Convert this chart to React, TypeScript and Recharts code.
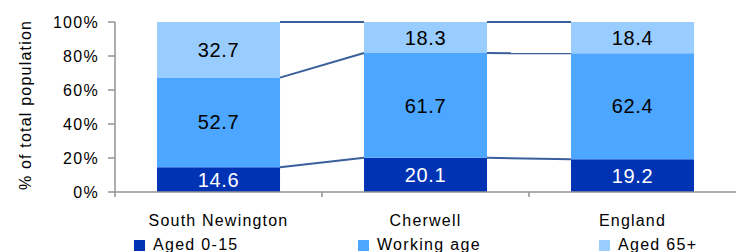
import { BarChart, Bar, XAxis, YAxis, Legend, LabelList, ReferenceLine } from "recharts";

const categories = ["South Newington", "Cherwell", "England"];
const seriesNames = ["Aged 0-15", "Working age", "Aged 65+"];
const aged0to15 = [14.6, 20.1, 19.2];
const workingAge = [52.7, 61.7, 62.4];
const aged65plus = [32.7, 18.3, 18.4];
const yTicks = [0, 0.2, 0.4, 0.6, 0.8, 1];

const FONT = "'Liberation Sans', Arial, sans-serif";
const AXIS = "#939393";
const GAP = 0.203; // barCategoryGap as a share of the band
const HALF = 0.5 - GAP; // half bar width in category units
const HALF_BAND = 103.5; // px, half of one category band
const LEGEND_X = [134, 358, 599];

const data = categories.map((name, i) => ({
    name,
    young: aged0to15[i],
    working: workingAge[i],
    old: aged65plus[i],
}));

// stack tops as share of the total, for the series lines
const levels = data.map(d => {
    const t = d.young + d.working + d.old;
    return [d.young / t, (d.young + d.working) / t, 1];
});

const segments: any[] = [];
for (let i = 0; i < data.length - 1; i++) {
    for (let k = 0; k < 3; k++) {
        segments.push([
            { x: i + HALF, y: levels[i][k] },
            { x: i + 1 - HALF, y: levels[i + 1][k] },
        ]);
    }
}

const CategoryTick = (props: any) => {
    const { x, y, payload } = props;
    const half = payload.offset || HALF_BAND;
    return (
        <g>
            <line x1={x - half} x2={x - half} y1={y} y2={y + 5} stroke={AXIS} strokeWidth={1.5} />
            <text x={x} y={y + 34} textAnchor="middle" fontSize={16} letterSpacing={1.2} fill="#000" fontFamily={FONT}>
                {payload.value}
            </text>
        </g>
    );
};

const YLabel = () => (
    <text
        x={25}
        y={105}
        transform="rotate(-90 25 105)"
        textAnchor="middle"
        dominantBaseline="central"
        fontSize={16}
        letterSpacing={1.2}
        fill="#000"
        fontFamily={FONT}
    >
        % of total population
    </text>
);

const LegendRow = (props: any) => {
    const items = [...(props.payload || [])].sort(
        (a: any, b: any) => seriesNames.indexOf(a.value) - seriesNames.indexOf(b.value)
    );
    return (
        <div style={{ position: "relative", height: 20, fontFamily: FONT, fontSize: 16, letterSpacing: 1.3, color: "#000" }}>
            {items.map((p: any, i: number) => (
                <div
                    key={p.value}
                    style={{ position: "absolute", left: LEGEND_X[i], top: 4, height: 18, lineHeight: "18px", display: "flex", alignItems: "center", whiteSpace: "nowrap" }}
                >
                    <span style={{ width: 11, height: 11, background: p.color, marginRight: 8, display: "inline-block" }} />
                    <span>{p.value}</span>
                </div>
            ))}
        </div>
    );
};

export default function App() {
    return (
        <div style={{ position: "absolute", left: 0, top: 0, width: 736, height: 252, background: "#fff" }}>
            <BarChart
                width={736}
                height={252}
                data={data}
                stackOffset="expand"
                barCategoryGap={`${GAP * 100}%`}
                margin={{ top: 22, right: 0, left: 0, bottom: 0 }}
            >
                <XAxis
                    dataKey="name"
                    height={40}
                    axisLine={{ stroke: AXIS, strokeWidth: 1.5 }}
                    tickLine={false}
                    tickSize={0}
                    tickMargin={0}
                    tick={<CategoryTick />}
                    interval={0}
                />
                <XAxis
                    xAxisId="num"
                    type="number"
                    domain={[0, categories.length - 1]}
                    padding={{ left: HALF_BAND, right: HALF_BAND }}
                    allowDataOverflow
                    hide
                />
                <YAxis
                    width={115}
                    domain={[0, 1]}
                    ticks={yTicks}
                    tickFormatter={(v: number) => `${Math.round(v * 100)}%`}
                    tickSize={7}
                    tickMargin={9}
                    axisLine={{ stroke: AXIS, strokeWidth: 1.5 }}
                    tickLine={{ stroke: AXIS, strokeWidth: 1.5 }}
                    tick={{ fontSize: 16, fill: "#000", fontFamily: FONT, letterSpacing: 1.3 }}
                    label={<YLabel />}
                />
                <Legend verticalAlign="bottom" content={<LegendRow />} wrapperStyle={{ left: 0, bottom: 0, width: 736 }} />
                <Bar dataKey="young" name={seriesNames[0]} stackId="a" fill="#0033B4" isAnimationActive={false}>
                    <LabelList dataKey="young" position="center" fill="#fff" fontSize={20} fontFamily={FONT} letterSpacing={0.7} />
                </Bar>
                <Bar dataKey="working" name={seriesNames[1]} stackId="a" fill="#4DA6FF" isAnimationActive={false}>
                    <LabelList dataKey="working" position="center" fill="#000" fontSize={20} fontFamily={FONT} letterSpacing={0.7} />
                </Bar>
                <Bar dataKey="old" name={seriesNames[2]} stackId="a" fill="#99CCFF" isAnimationActive={false}>
                    <LabelList dataKey="old" position="center" fill="#000" fontSize={20} fontFamily={FONT} letterSpacing={0.7} />
                </Bar>
                {segments.map((seg, i) => (
                    <ReferenceLine key={i} xAxisId="num" segment={seg} stroke="#3A5F9A" strokeWidth={2} ifOverflow="visible" />
                ))}
            </BarChart>
        </div>
    );
}
